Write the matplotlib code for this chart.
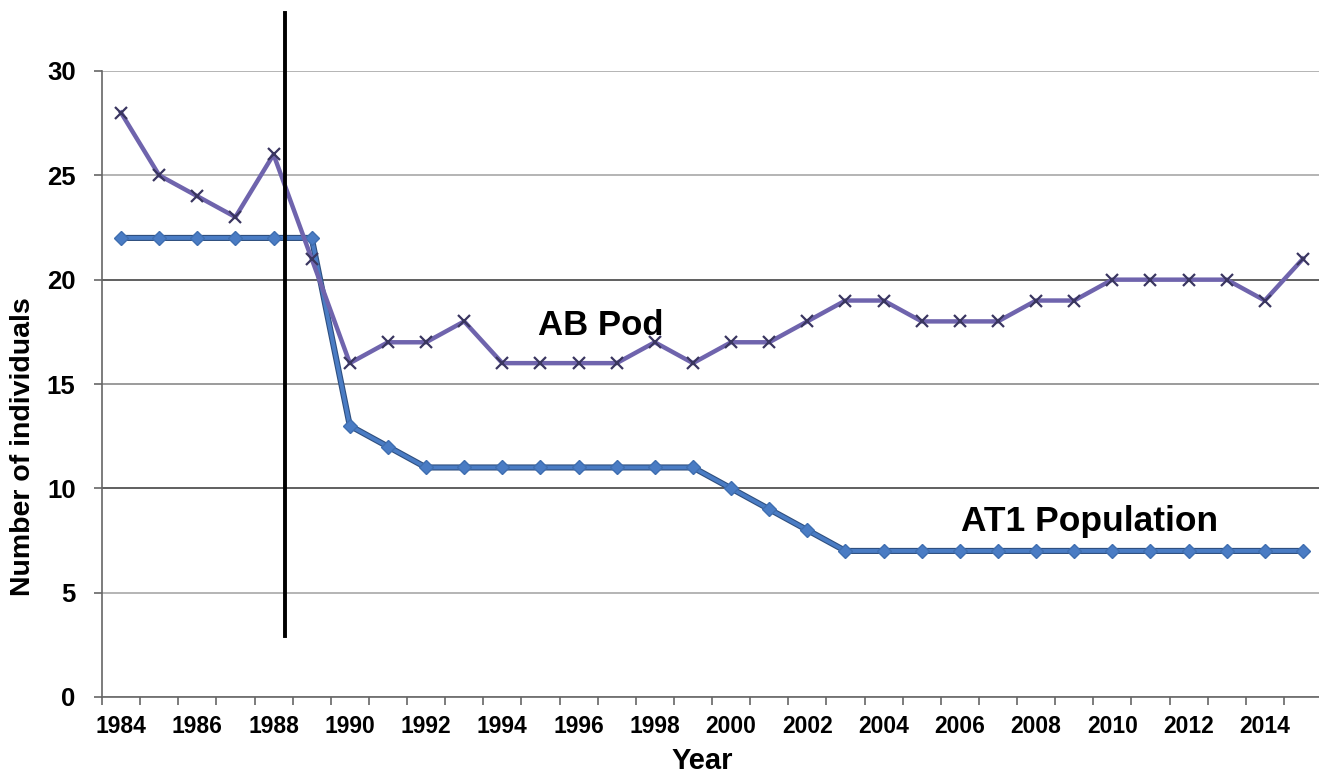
import numpy as np
import matplotlib
matplotlib.use("Agg")
import matplotlib.pyplot as plt

plt.rcParams['font.family'] = ['Liberation Sans', 'DejaVu Sans']

YEARS = list(range(1984, 2016))
AB_POD = [28, 25, 24, 23, 26, 21, 16, 17, 17, 18, 16, 16, 16, 16, 17, 16,
          17, 17, 18, 19, 19, 18, 18, 18, 19, 19, 20, 20, 20, 20, 19, 21]
AT1 = [22, 22, 22, 22, 22, 22, 13, 12, 11, 11, 11, 11, 11, 11, 11, 11,
       10, 9, 8, 7, 7, 7, 7, 7, 7, 7, 7, 7, 7, 7, 7, 7]
Y_TICKS = [0, 5, 10, 15, 20, 25, 30]
EVENT_YEAR = 1988.3   # vertical marker
EVENT_SPAN = (2.9, 32.8)


def main():
    W, H = 1319, 775
    fig = plt.figure(figsize=(W / 100, H / 100), dpi=100)
    ax = fig.add_axes([102 / W, (H - 697) / H, 1220 / W, 626 / H])

    x = np.arange(len(YEARS))

    # AT1 population: blue line with darker edge
    ax.plot(x, AT1, color='#2f4f7f', lw=4.4, zorder=3, solid_capstyle='round')
    ax.plot(x, AT1, color='#4a7cc4', lw=2.8, marker='D', ms=7.5,
            mfc='#4a7cc4', mec='#3f6eb0', zorder=4)

    # AB Pod: purple line with x markers
    ax.plot(x, AB_POD, color='#6f64ad', lw=3.2, zorder=5)
    ax.plot(x, AB_POD, ls='none', marker='x', ms=9, mew=1.6,
            color='#3a3660', zorder=6)

    # vertical event line
    ex = YEARS.index(1988) + (EVENT_YEAR - 1988)
    ax.plot([ex, ex], list(EVENT_SPAN), color='black', lw=2.8,
            clip_on=False, zorder=7)

    ax.text(12.59, 17.8, "AB Pod", fontsize=25, fontweight='bold',
            ha='center', va='center')
    ax.text(25.41, 8.4, "AT1 Population", fontsize=25.5, fontweight='bold',
            ha='center', va='center')

    ax.set_xlim(-0.5, len(YEARS) - 0.5)
    ax.set_ylim(0, 30)

    ax.set_xticks(x[::2])
    ax.set_xticklabels([str(y) for y in YEARS[::2]], fontsize=16.5,
                       fontweight='bold')
    ax.set_xticks(np.arange(-0.5, len(YEARS), 1.0), minor=True)
    ax.tick_params(axis='x', which='major', length=0, pad=13)
    ax.tick_params(axis='x', which='minor', length=6, width=1.2,
                   color='#666666', direction='out')

    ax.set_yticks(Y_TICKS)
    ax.set_yticklabels([str(v) for v in Y_TICKS], fontsize=18.5,
                       fontweight='bold')
    ax.tick_params(axis='y', length=6, width=1.2, color='#666666', pad=13)

    ax.yaxis.grid(True, lw=1.2, color='#a8a8a8')
    for val, gl in zip(Y_TICKS, ax.yaxis.get_gridlines()):
        if val in (10, 20):
            gl.set_color('#444444')
        elif val == 15:
            gl.set_color('#8a8a8a')
    ax.set_axisbelow(True)

    for side in ('top', 'right'):
        ax.spines[side].set_visible(False)
    ax.spines['left'].set_color('#666666')
    ax.spines['bottom'].set_color('#666666')
    ax.spines['left'].set_linewidth(1.2)
    ax.spines['bottom'].set_linewidth(1.2)

    ax.set_xlabel("Year", fontsize=21, fontweight='bold')
    ax.xaxis.set_label_coords(0.492, -0.08)
    ax.set_ylabel("Number of individuals", fontsize=20.5, fontweight='bold')
    ax.yaxis.set_label_coords(-0.054, 0.4)

    fig.savefig("out.png", dpi=100)


if __name__ == '__main__':
    main()
